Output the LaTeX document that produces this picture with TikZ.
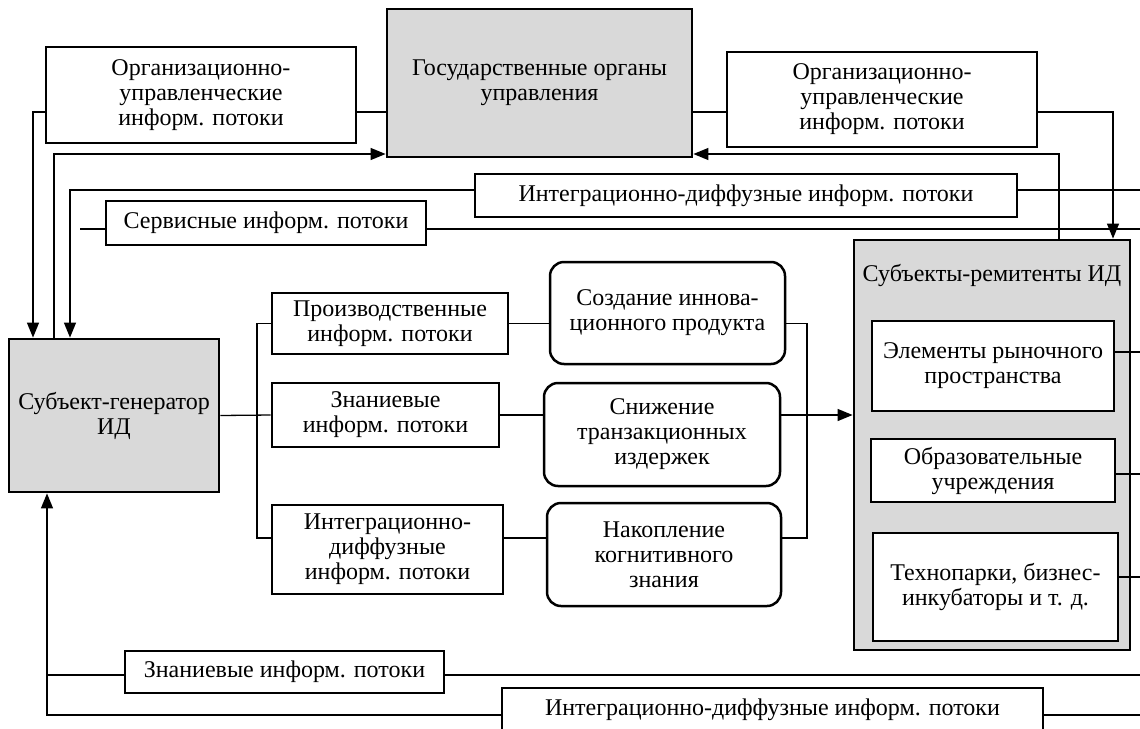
\documentclass[tikz,border=0pt]{standalone}
\usepackage{fontspec}
\setmainfont{Liberation Serif}
\usepackage{tikz}
\usetikzlibrary{arrows.meta, positioning, calc}
\tikzset{
  flow/.style={draw, line width=2.8pt, fill=white, align=center, inner sep=2pt},
  actor/.style={flow, fill=gray!30},
  stage/.style={flow, rounded corners=14pt, line width=2.5pt},
  link/.style={line width=1.3pt},
  arr/.style={link, -{Triangle[length=15pt, width=12pt]}},
}

\begin{document}
\begin{tikzpicture}[x=1pt, y=-1pt, font=\fontsize{24}{25}\selectfont]
  \useasboundingbox (0,0) rectangle (1140,728);
  \node[actor, minimum width=305pt, minimum height=148pt] (gov) at (539.5,83) {Государственные органы\\управления};
  \node[flow, minimum width=310pt, minimum height=96pt] (orgL) at (201,95) {Организационно-\\управленческие\\информ. потоки};
  \node[flow, minimum width=310pt, minimum height=95pt] (orgR) at (882,99.5) {Организационно-\\управленческие\\информ. потоки};
  \node[flow, minimum width=542pt, minimum height=43pt] (intT) at (746,195.5) {Интеграционно-диффузные информ. потоки};
  \node[flow, minimum width=320pt, minimum height=44pt] (serv) at (266,223) {Сервисные информ. потоки};
  \node[actor, minimum width=210pt, minimum height=153pt] (gen) at (114,415.5) {Субъект-генератор\\ИД};
  \node[flow, minimum width=236pt, minimum height=61pt] (prod) at (390,323.5) {Производственные\\информ. потоки};
  \node[flow, minimum width=227pt, minimum height=64pt] (know) at (385.5,415) {Знаниевые\\информ. потоки};
  \node[flow, minimum width=231pt, minimum height=89pt] (intM) at (387.5,549.5) {Интеграционно-\\диффузные\\информ. потоки};
  \node[stage, minimum width=235pt, minimum height=102pt] (create) at (667.5,313) {Создание иннова-\\ционного продукта};
  \node[stage, minimum width=236pt, minimum height=103pt] (reduce) at (662,434.5) {Снижение\\транзакционных\\издержек};
  \node[stage, minimum width=234pt, minimum height=103pt] (accum) at (664,554.5) {Накопление\\когнитивного\\знания};
  \node[actor, minimum width=276pt, minimum height=410pt] (rem) at (992,445) {};
  \node (remlbl) at (992,275) {Субъекты-ремитенты ИД};
  \node[flow, minimum width=242pt, minimum height=90pt] (market) at (993,366) {Элементы рыночного\\пространства};
  \node[flow, minimum width=244pt, minimum height=63pt] (edu) at (993,470.5) {Образовательные\\учреждения};
  \node[flow, minimum width=245pt, minimum height=108pt] (tech) at (995.5,587) {Технопарки, бизнес-\\инкубаторы и т. д.};
  \node[flow, minimum width=319pt, minimum height=42pt] (knowB) at (284.5,672) {Знаниевые информ. потоки};
  \node[flow, minimum width=541pt, minimum height=44pt] (intB) at (772.5,710) {Интеграционно-диффузные информ. потоки};

  \coordinate (yOrg) at (0,112);
  \coordinate (yUp) at (0,154);
  \coordinate (yIntT) at (0,190);
  \coordinate (yServ) at (0,229);
  \coordinate (yMkt) at (0,352);
  \coordinate (yEdu) at (0,474);
  \coordinate (yTech) at (0,577);
  \coordinate (yAcc) at (0,538);
  \coordinate (yKnB) at (0,675);
  \coordinate (yIntB) at (0,715);
  \coordinate (xA) at (33,0);
  \coordinate (xB) at (54,0);
  \coordinate (xC) at (70,0);
  \coordinate (xStub) at (80,0);
  \coordinate (xF) at (47,0);
  \coordinate (xBr) at (257,0);
  \coordinate (xBr2) at (807,0);
  \coordinate (xD) at (1059,0);
  \coordinate (xE) at (1113,0);
  \coordinate (xEdge) at (1140,0);

  \draw[arr] (orgL.west |- yOrg) -| (xA |- gen.north);
  \draw[link] (orgL.east |- yOrg) -- (gov.west |- yOrg);
  \draw[arr] (xB |- gen.north) |- (gov.west |- yUp);
  \draw[arr] (intT.west |- yIntT) -| (xC |- gen.north);
  \draw[link] (intT.east |- yIntT) -- (xEdge |- yIntT);
  \draw[link] (xStub |- yServ) -- (serv.west |- yServ);
  \draw[link] (serv.east |- yServ) -- (xEdge |- yServ);
  \draw[link] (gov.east |- yOrg) -- (orgR.west |- yOrg);
  \draw[arr] (orgR.east |- yOrg) -| (xE |- rem.north);
  \draw[arr] (xD |- rem.north) |- (gov.east |- yUp);
  \draw[link] (gen.east) -- (know.west);
  \draw[link] (prod.west) -| (xBr |- yAcc) -- (intM.west |- yAcc);
  \draw[link] (prod.east) -- (create.west |- prod.east);
  \draw[link] (know.east) -- (reduce.west |- know.east);
  \draw[link] (intM.east |- yAcc) -- (accum.west |- yAcc);
  \draw[link] (create.east |- prod.east) -| (xBr2 |- yAcc) -- (accum.east |- yAcc);
  \draw[arr] (reduce.east |- know.east) -- (rem.west |- know.east);
  \draw[link] (market.east |- yMkt) -- (xEdge |- yMkt);
  \draw[link] (edu.east |- yEdu) -- (xEdge |- yEdu);
  \draw[link] (tech.east |- yTech) -- (xEdge |- yTech);
  \draw[arr] (intB.west |- yIntB) -| (xF |- gen.south);
  \draw[link] (knowB.west |- yKnB) -- (xF |- yKnB);
  \draw[link] (knowB.east |- yKnB) -- (xEdge |- yKnB);
  \draw[link] (intB.east |- yIntB) -- (xEdge |- yIntB);
\end{tikzpicture}
\end{document}
